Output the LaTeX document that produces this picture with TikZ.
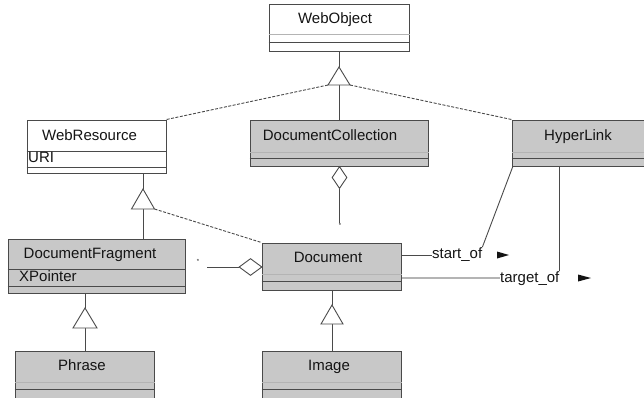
\documentclass[tikz,border=0pt]{standalone}
\usepackage{fontspec}
\setmainfont{Liberation Sans}
\usetikzlibrary{fit,shapes.geometric}
\definecolor{boxfill}{HTML}{C8C8C8}
\definecolor{edgecol}{HTML}{4A4A4A}
\definecolor{lightline}{HTML}{B4B4B4}
\definecolor{txtcol}{HTML}{141414}
\begin{document}
\begin{tikzpicture}[x=1pt,y=-1pt,
  cls/.style={draw=edgecol, line width=1pt, inner sep=0pt},
  greybox/.style={fill=boxfill},
  whitebox/.style={fill=white},
  comp/.style={draw=edgecol, line width=1pt},
  lcomp/.style={draw=lightline, line width=1pt},
  title/.style={font=\fontsize{15}{18}\selectfont, text=txtcol, inner sep=0pt, anchor=base},
  attr/.style={title, anchor=base west},
  conn/.style={draw=edgecol, line width=0.9pt},
  lconn/.style={draw=lightline, line width=1.2pt},
  dashconn/.style={conn, dash pattern=on 3pt off 1.5pt},
  gen/.style={draw=edgecol, fill=white, line width=0.9pt, line join=miter},
  agg/.style={diamond, draw=edgecol, fill=white, line width=0.9pt, inner sep=0pt},
  mult/.style={font=\fontsize{6}{6}\selectfont, text=txtcol, inner sep=0pt},
  navtip/.style={fill=txtcol}
]
\useasboundingbox (0,0) rectangle (644,397);
\clip (0,0) rectangle (644,397);

% ---------- classes ----------
% WebObject
\node[cls, whitebox, fit={(269,4) (409,51)}] (wo) {};
\node[title] (wot) at (335,23) {WebObject};
\draw[lcomp] (wo.west |- 0,34) -- (wo.east |- 0,34);
\draw[comp] (wo.west |- 0,42) -- (wo.east |- 0,42);

% WebResource
\node[cls, whitebox, fit={(27,120) (166,173)}] (wr) {};
\node[title] (wrt) at (89.5,140) {WebResource};
\draw[comp] (wr.west |- 0,151) -- (wr.east |- 0,151);
\node[attr] (wra) at (28,162) {URI};
\draw[comp] (wr.west |- 0,167) -- (wr.east |- 0,167);

% DocumentCollection
\node[cls, greybox, fit={(250,120) (428,166)}] (dc) {};
\node[title] (dct) at (330,140) {DocumentCollection};
\draw[lcomp] (dc.west |- 0,152) -- (dc.east |- 0,152);
\draw[comp] (dc.west |- 0,158) -- (dc.east |- 0,158);

% HyperLink
\node[cls, greybox, fit={(512,120) (652,166)}] (hl) {};
\node[title] (hlt) at (578,140) {HyperLink};
\draw[lcomp] (hl.west |- 0,152) -- (hl.east |- 0,152);
\draw[comp] (hl.west |- 0,158) -- (hl.east |- 0,158);

% DocumentFragment
\node[cls, greybox, fit={(8,239) (185,293)}] (df) {};
\node[title] (dft) at (90,258) {DocumentFragment};
\draw[comp] (df.west |- 0,269) -- (df.east |- 0,269);
\node[attr] (dfa) at (19,281) {XPointer};
\draw[comp] (df.west |- 0,286) -- (df.east |- 0,286);

% Document
\node[cls, greybox, fit={(262,243) (401,290)}] (doc) {};
\node[title] (doct) at (328,262) {Document};
\draw[lcomp] (doc.west |- 0,274) -- (doc.east |- 0,274);
\draw[comp] (doc.west |- 0,281) -- (doc.east |- 0,281);

% Phrase
\node[cls, greybox, fit={(15,351) (154,402)}] (ph) {};
\node[title] (pht) at (82,370) {Phrase};
\draw[lcomp] (ph.west |- 0,382) -- (ph.east |- 0,382);
\draw[comp] (ph.west |- 0,389) -- (ph.east |- 0,389);

% Image
\node[cls, greybox, fit={(262,351) (401,402)}] (img) {};
\node[title] (imgt) at (329,370) {Image};
\draw[lcomp] (img.west |- 0,382) -- (img.east |- 0,382);
\draw[comp] (img.west |- 0,389) -- (img.east |- 0,389);

% ---------- generalisation triangles ----------
\coordinate (t1a) at (339,67);  \coordinate (t1b) at (339,85);
\coordinate (t1l) at (328,85);  \coordinate (t1r) at (350,85);
\coordinate (t2a) at (143,189); \coordinate (t2b) at (143,209);
\coordinate (t2l) at (131.5,209); \coordinate (t2r) at (154.5,209);
\coordinate (t3a) at (85,308);  \coordinate (t3b) at (85,328);
\coordinate (t3l) at (73,328);  \coordinate (t3r) at (97,328);
\coordinate (t4a) at (332,305); \coordinate (t4b) at (332,324);
\coordinate (t4l) at (321,324); \coordinate (t4r) at (343,324);

\draw[conn] (t1a |- wo.south) -- (t1a);
\draw[conn] (t1b) -- (t1b |- dc.north);
\draw[dashconn] (t1l) -- (wr.north east);
\draw[dashconn] (t1r) -- (hl.north west);

\draw[conn] (t2a |- wr.south) -- (t2a);
\draw[conn] (t2b) -- (t2b |- df.north);
\draw[dashconn] (t2r) -- (doc.north west);

\draw[conn] (t3a |- df.south) -- (t3a);
\draw[conn] (t3b) -- (t3b |- ph.north);

\draw[conn] (t4a |- doc.south) -- (t4a);
\draw[conn] (t4b) -- (t4b |- img.north);

\draw[gen] (t1a) -- (t1r) -- (t1l) -- cycle;
\draw[gen] (t2a) -- (t2r) -- (t2l) -- cycle;
\draw[gen] (t3a) -- (t3r) -- (t3l) -- cycle;
\draw[gen] (t4a) -- (t4r) -- (t4l) -- cycle;

% ---------- aggregations ----------
\node[agg, minimum width=15pt, minimum height=22pt] (ag1) at (339.5,177.5) {};
\coordinate (ag1e) at (339.5,223);
\draw[conn] (ag1.south) -- (ag1e);
\node[mult] (m1) at (340,225.5) {*};

\node[agg, minimum width=23pt, minimum height=17pt] (ag2) at (250.5,267) {};
\coordinate (ag2e) at (207,267);
\draw[conn] (ag2.west) -- (ag2e);
\node[mult] (m2) at (198,261) {*};

% ---------- hyperlink roles ----------
\node[title, anchor=base west] (so) at (432,258) {start\_of};
\node[title, anchor=base west] (to) at (500,282) {target\_of};
\draw[conn] (doc.east |- 0,255) -- (so.west |- 0,255);
\draw[lconn] (doc.east |- 0,278) -- (to.west |- 0,278);
\coordinate (hl1) at (513,166);
\draw[conn] (hl1) -- (so.north east);
\coordinate (hl2) at (559,166);
\draw[conn] (hl2) -- (hl2 |- to.north);

\fill[navtip] (497,251.5) -- (509,255) -- (497,258.5) -- cycle;
\fill[navtip] (578,274.5) -- (591,278) -- (578,281.5) -- cycle;
\end{tikzpicture}
\end{document}
